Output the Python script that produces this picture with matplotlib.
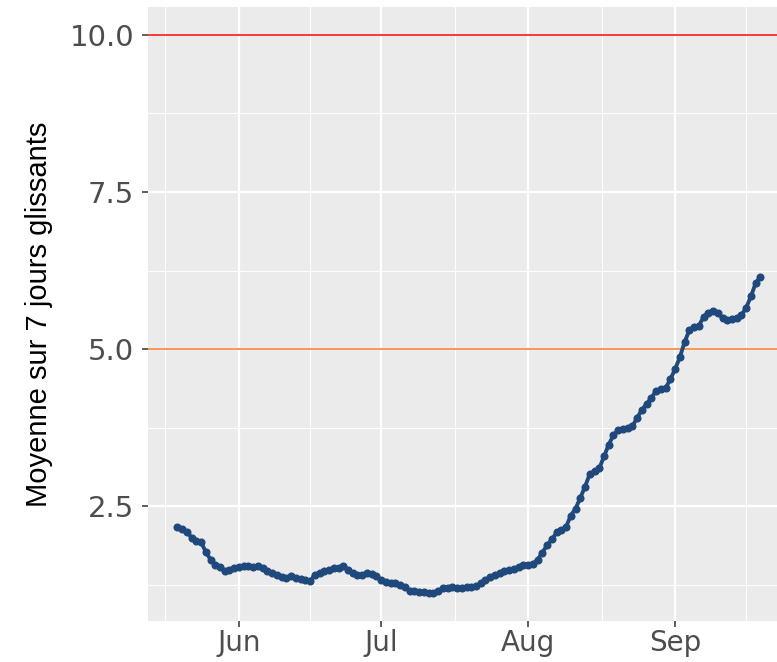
import matplotlib
matplotlib.use("Agg")
import matplotlib.pyplot as plt
import matplotlib.dates as mdates
import numpy as np
import pandas as pd

# 7-day rolling mean, one value per day from 19 May to 19 Sep
start_date = "2020-05-19"
values = [
    2.17, 2.13, 2.09, 2.00, 1.95, 1.93, 1.77, 1.65, 1.57, 1.53, 1.46, 1.49, 1.51,
    1.53, 1.55, 1.54, 1.53, 1.55, 1.51, 1.47, 1.44, 1.40, 1.37, 1.36, 1.38, 1.35, 1.34,
    1.32, 1.30, 1.41, 1.44, 1.47, 1.49, 1.51, 1.51, 1.55, 1.49, 1.44, 1.40, 1.40, 1.44,
    1.42, 1.38,
    1.32, 1.29, 1.28, 1.27, 1.24, 1.21, 1.15, 1.15, 1.14, 1.13, 1.12, 1.12, 1.15,
    1.19, 1.19, 1.22, 1.20, 1.20, 1.21, 1.22, 1.23, 1.27, 1.32, 1.37, 1.40, 1.43,
    1.46, 1.48, 1.50, 1.53, 1.56,
    1.57, 1.58, 1.65, 1.76, 1.88, 1.97, 2.08, 2.12, 2.17, 2.35, 2.46, 2.63, 2.81,
    3.01, 3.06, 3.10, 3.29, 3.48, 3.63, 3.71, 3.73, 3.75, 3.77, 3.91, 4.03, 4.13,
    4.22, 4.34, 4.36, 4.38, 4.52,
    4.68, 4.87, 5.11, 5.30, 5.35, 5.37, 5.51, 5.58, 5.60, 5.58, 5.49, 5.47, 5.48,
    5.50, 5.54, 5.66, 5.84, 6.05, 6.15,
]
dates = pd.date_range(start_date, periods=len(values), freq="D")

thresholds = [10, 5]
threshold_colors = ["#FF0000", "#F47B2A"]
y_ticks = [2.5, 5.0, 7.5, 10.0]
y_minor = [1.25, 3.75, 6.25, 8.75]
month_starts = pd.to_datetime(["2020-05-01", "2020-06-01", "2020-07-01",
                               "2020-08-01", "2020-09-01", "2020-10-01"])
ylabel = "Moyenne sur 7 jours glissants"

fig = plt.figure(figsize=(7.77, 6.62), dpi=100)
ax = fig.add_axes([0.1907, 0.0624, 0.8255, 0.9269])
ax.set_facecolor("#EBEBEB")

x = mdates.date2num(dates)
for t, c in zip(thresholds, threshold_colors):
    ax.axhline(t, color=c, lw=1.1, zorder=2)
ax.plot(x, values, color="#1F487C", lw=2.8, marker="o", ms=4.8, zorder=3)

# ggplot style expansion (5 %)
ymin = min(min(values), min(thresholds))
ymax = max(max(values), max(thresholds))
ypad = 0.05 * (ymax - ymin)
ax.set_ylim(ymin - ypad, ymax + ypad)
xpad = 0.05 * (x[-1] - x[0])
ax.set_xlim(x[0] - xpad, x[-1] + xpad)

mnum = mdates.date2num(month_starts)
ax.set_xticks(mnum[1:5])
ax.set_xticklabels(["Jun", "Jul", "Aug", "Sep"])
ax.set_xticks((mnum[:-1] + mnum[1:]) / 2, minor=True)
ax.set_yticks(y_ticks)
ax.set_yticklabels([f"{v:.1f}" for v in y_ticks])
ax.set_yticks(y_minor, minor=True)

ax.grid(which="major", color="white", lw=1.6, zorder=0)
ax.grid(which="minor", color="white", lw=0.7, zorder=0)
ax.set_axisbelow(True)
for s in ax.spines.values():
    s.set_visible(False)

ax.tick_params(which="major", length=4, width=1.1, color="#333333",
               labelcolor="#4D4D4D", labelsize=20)
ax.tick_params(axis="y", pad=6, labelsize=21)
ax.tick_params(axis="x", pad=2)
ax.tick_params(which="minor", length=0)

ax.set_ylabel(ylabel, fontsize=21, color="black", labelpad=12,
              family=["Liberation Sans Narrow", "Liberation Sans", "DejaVu Sans"])

fig.savefig("out.png", dpi=100)
